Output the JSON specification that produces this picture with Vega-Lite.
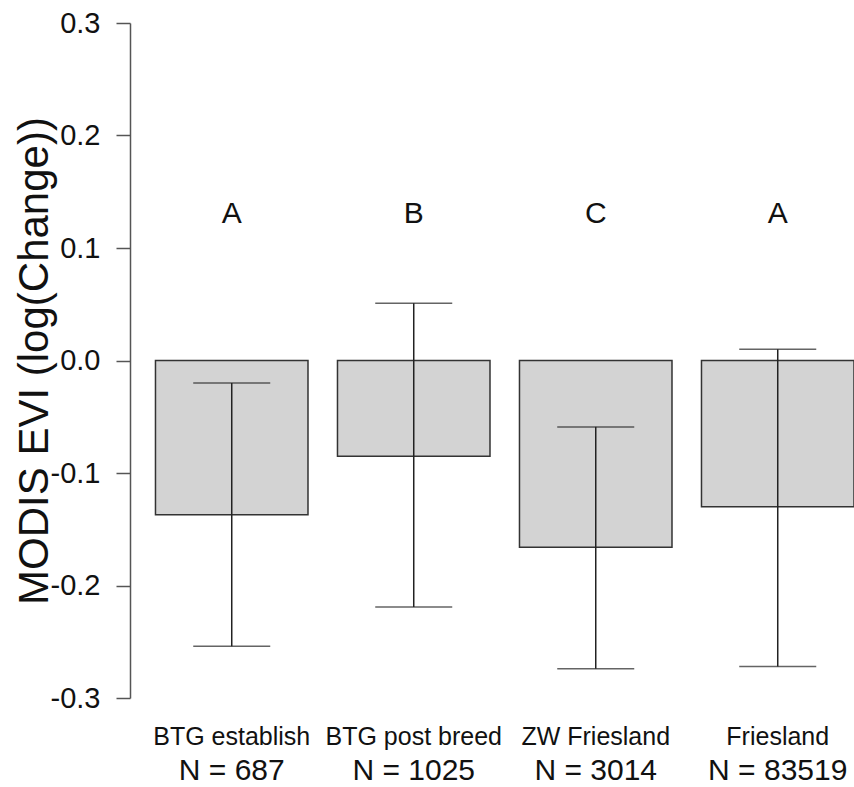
{
  "$schema": "https://vega.github.io/schema/vega-lite/v6.json",
  "width": 724,
  "height": 675,
  "autosize": {"type": "none"},
  "padding": {"left": 130, "top": 23, "right": 0, "bottom": 89},
  "background": "white",
  "config": {"view": {"stroke": null}, "font": "Liberation Sans"},
  "data": {
    "values": [
      {"group": "BTG establish", "n": "N = 687", "mean": -0.137, "lower": -0.254, "upper": -0.020, "letter": "A"},
      {"group": "BTG post breed", "n": "N = 1025", "mean": -0.085, "lower": -0.219, "upper": 0.051, "letter": "B"},
      {"group": "ZW Friesland", "n": "N = 3014", "mean": -0.166, "lower": -0.274, "upper": -0.059, "letter": "C"},
      {"group": "Friesland", "n": "N = 83519", "mean": -0.130, "lower": -0.272, "upper": 0.010, "letter": "A"}
    ]
  },
  "encoding": {
    "x": {
      "field": "group",
      "type": "nominal",
      "sort": null,
      "scale": {"paddingInner": 0.162, "paddingOuter": 0.07, "align": 1},
      "axis": {
        "title": null,
        "domain": false,
        "ticks": false,
        "tickSize": 0,
        "labelAngle": 0,
        "labelFontSize": 25,
        "labelColor": "#111",
        "labelBaseline": "alphabetic",
        "labelPadding": 46,
        "labelLimit": 0
      }
    }
  },
  "layer": [
    {
      "mark": {"type": "bar", "fill": "#d3d3d3", "stroke": "#333", "strokeWidth": 1.5},
      "encoding": {
        "y": {
          "field": "mean",
          "type": "quantitative",
          "scale": {"domain": [-0.3, 0.3], "nice": false, "zero": true},
          "axis": {
            "values": [-0.3, -0.2, -0.1, 0, 0.1, 0.2, 0.3],
            "format": ".1f",
            "labelExpr": "replace(datum.label, '\u2212', '-')",
            "labelFontSize": 29,
            "labelColor": "#111",
            "labelPadding": 16,
            "labelFlush": false,
            "labelOverlap": false,
            "tickSize": 14,
            "tickColor": "#555",
            "tickWidth": 1.5,
            "domainColor": "#555",
            "domainWidth": 1.5,
            "grid": false,
            "title": "MODIS EVI (log(Change))",
            "titleFontSize": 42,
            "titleFontWeight": "normal",
            "titleColor": "#111",
            "titleAngle": 270,
            "titleBaseline": "alphabetic",
            "titleX": -83,
            "titleY": 337.5
          }
        }
      }
    },
    {
      "mark": {"type": "rule", "color": "#222", "strokeWidth": 1.5},
      "encoding": {
        "y": {"field": "lower", "type": "quantitative"},
        "y2": {"field": "upper"}
      }
    },
    {
      "mark": {"type": "tick", "orient": "horizontal", "size": 77, "thickness": 1.5, "color": "#222"},
      "encoding": {"y": {"field": "lower", "type": "quantitative"}}
    },
    {
      "mark": {"type": "tick", "orient": "horizontal", "size": 77, "thickness": 1.5, "color": "#222"},
      "encoding": {"y": {"field": "upper", "type": "quantitative"}}
    },
    {
      "mark": {"type": "text", "fontSize": 30, "baseline": "middle", "color": "#111"},
      "encoding": {"y": {"datum": 0.13}, "text": {"field": "letter"}}
    },
    {
      "mark": {"type": "text", "fontSize": 30, "baseline": "alphabetic", "color": "#111"},
      "encoding": {"y": {"datum": -0.3725}, "text": {"field": "n"}}
    }
  ]
}
